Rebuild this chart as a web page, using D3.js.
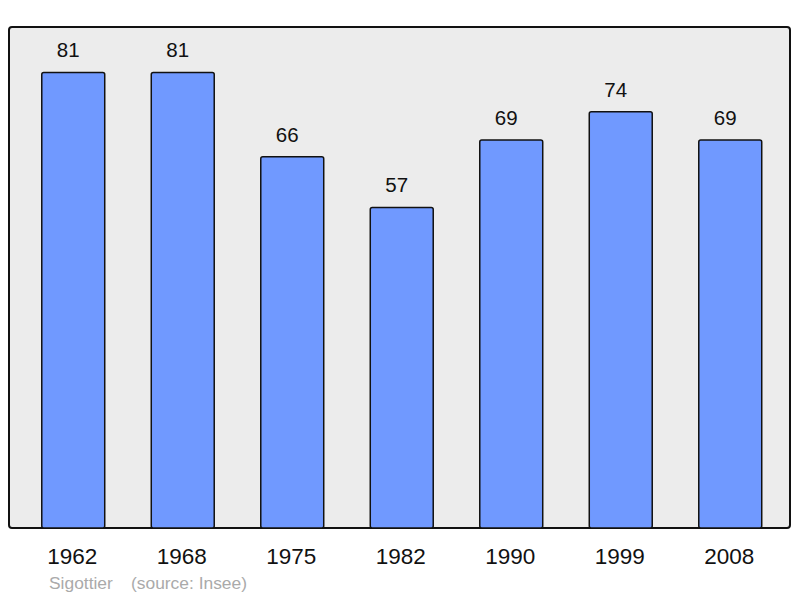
<!DOCTYPE html>
<html><head><meta charset="utf-8">
<script src="https://cdn.jsdelivr.net/npm/d3@7"></script>
<style>body{margin:0;background:#fff;} svg{display:block;}</style>
</head><body>
<svg id="c" width="800" height="598"></svg>
<script>
const years = ["1962","1968","1975","1982","1990","1999","2008"];
const population = [81,81,66,57,69,74,69];
const credit = "Sigottier";
const source = "(source: Insee)";

const svg = d3.select("#c");
const frame = {x:9, y:27, w:781, h:501};

svg.append("rect").attr("x",frame.x).attr("y",frame.y).attr("width",frame.w).attr("height",frame.h)
  .attr("rx",3).attr("fill","#ececec").attr("stroke","#111").attr("stroke-width",2);

const x = d3.scaleBand().domain(years).range([18.5,785]).paddingInner(0.425).paddingOuter(0.2125);
const y = d3.scaleLinear().domain([0, 89.07]).range([frame.y+frame.h, frame.y]);

const data = years.map((yr,i)=>({yr, v:population[i]}));

svg.selectAll("rect.bar").data(data).join("rect").attr("class","bar")
  .attr("x",d=>x(d.yr)).attr("y",d=>y(d.v))
  .attr("width",x.bandwidth()).attr("height",d=>y(0)-y(d.v))
  .attr("rx",2).attr("fill","#7099ff").attr("stroke","#111").attr("stroke-width",1.5);

svg.selectAll("text.val").data(data).join("text").attr("class","val")
  .attr("x",d=>x(d.yr)+x.bandwidth()/2-5).attr("y",d=>y(d.v)-15)
  .attr("text-anchor","middle").attr("font-family","Liberation Sans, Arial, sans-serif")
  .attr("font-size",20.5).attr("fill","#111").text(d=>d.v);

svg.selectAll("text.yr").data(data).join("text").attr("class","yr")
  .attr("x",d=>x(d.yr)+x.bandwidth()/2-1).attr("y",564)
  .attr("text-anchor","middle").attr("font-family","Liberation Sans, Arial, sans-serif")
  .attr("font-size",22.5).attr("fill","#111").text(d=>d.yr);

svg.append("text").attr("x",49).attr("y",589).attr("font-family","Liberation Sans, Arial, sans-serif")
  .attr("font-size",17.4).attr("fill","#aaaaaa").text(credit);
svg.append("text").attr("x",131).attr("y",589).attr("font-family","Liberation Sans, Arial, sans-serif")
  .attr("font-size",17.4).attr("fill","#aaaaaa").text(source);
</script>
</body></html>
